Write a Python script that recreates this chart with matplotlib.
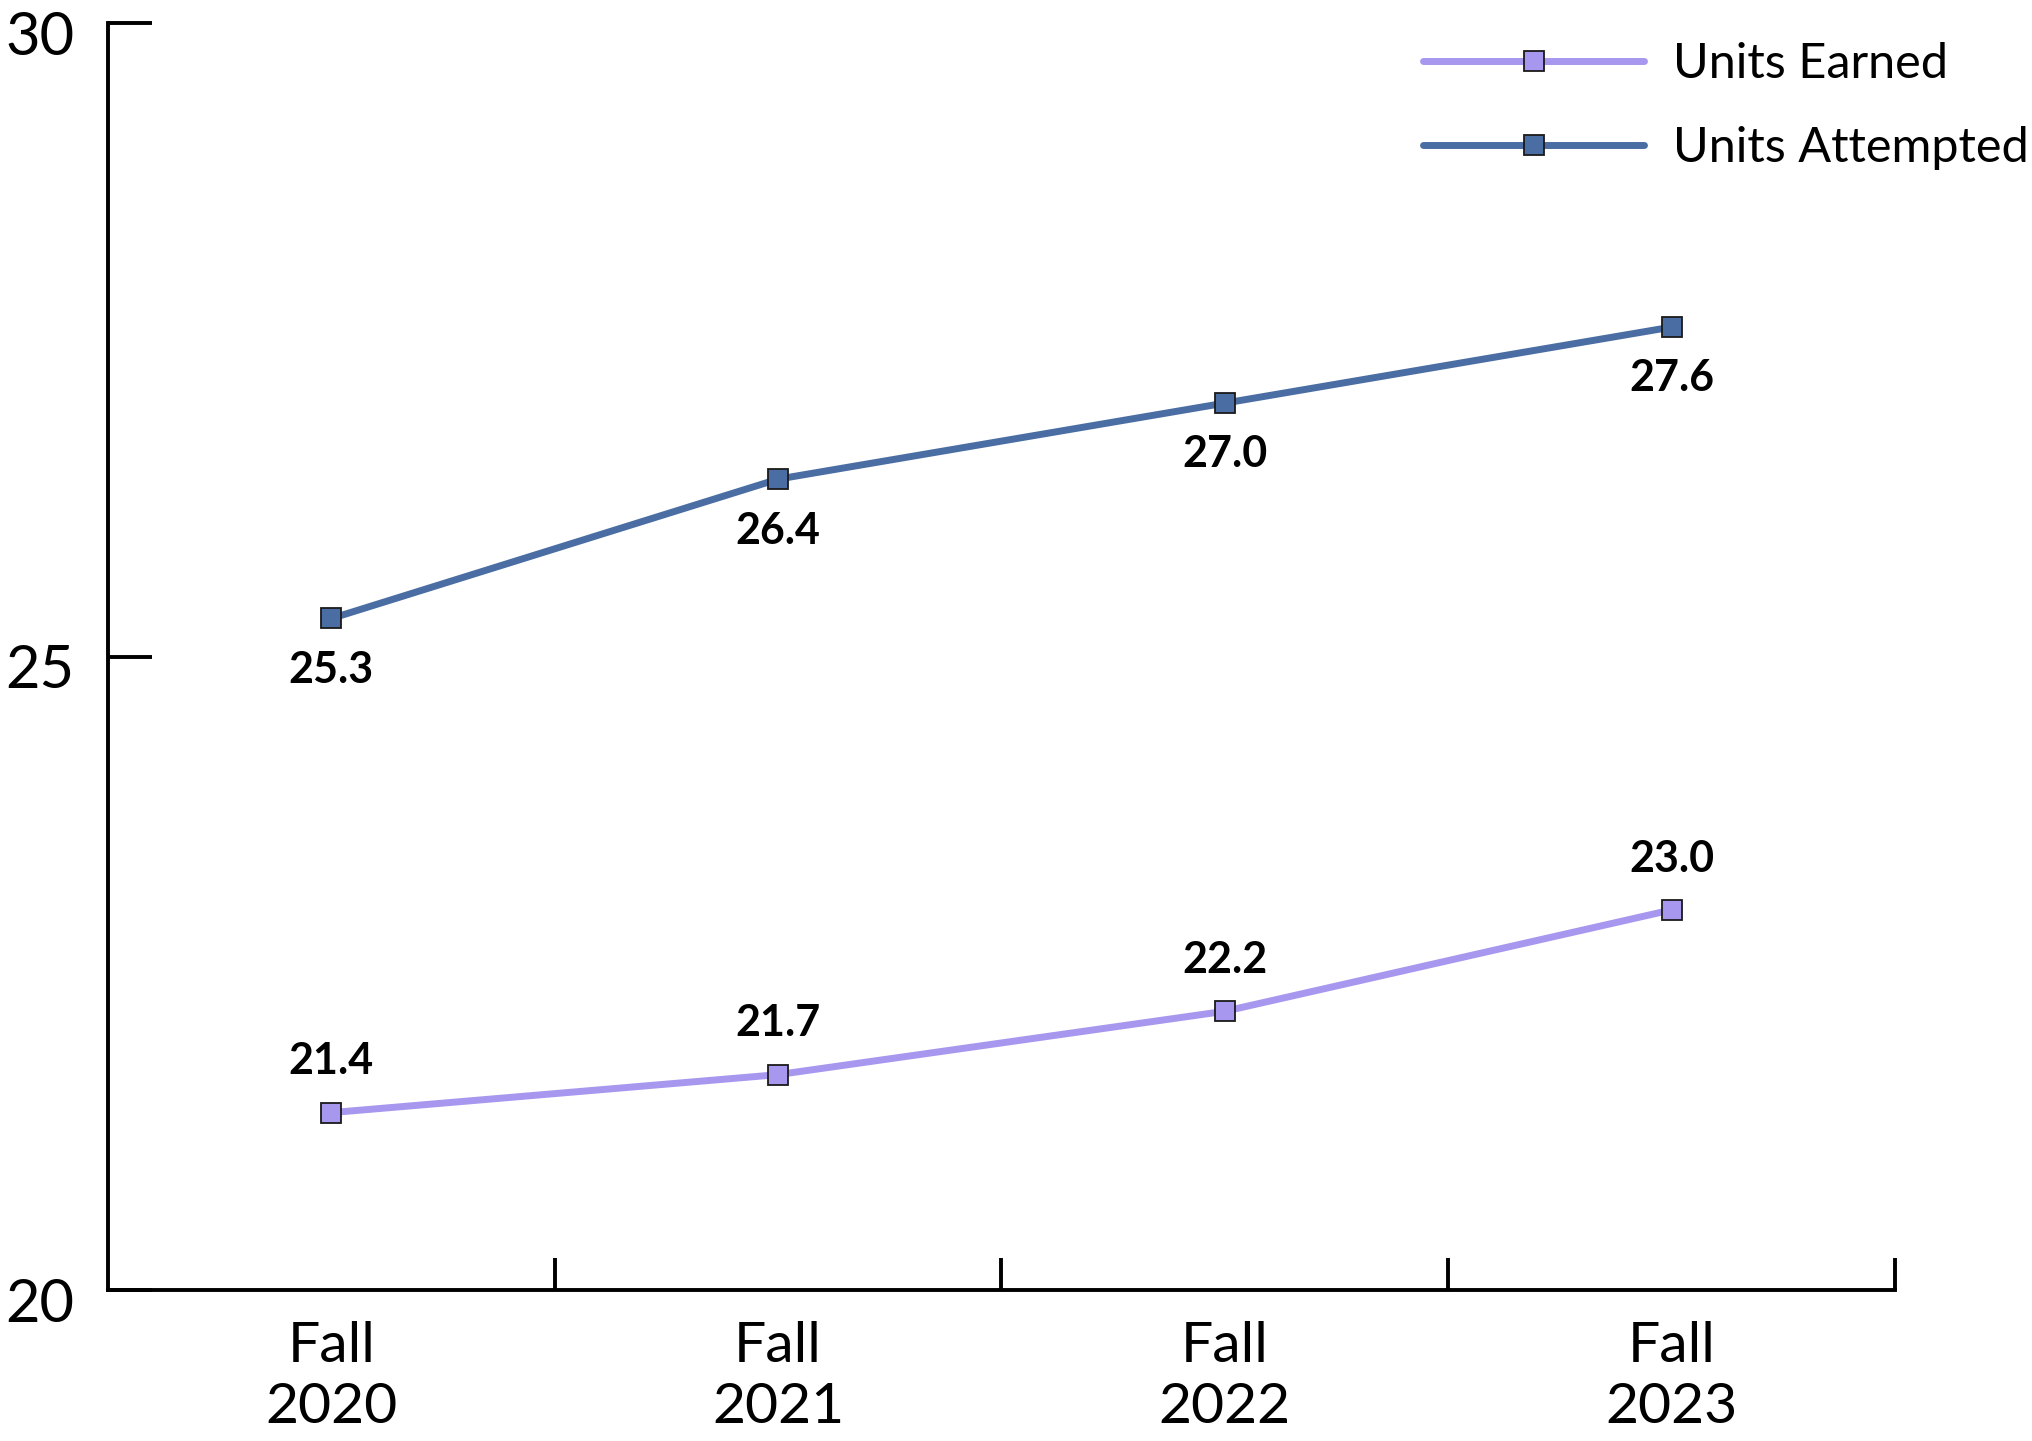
import matplotlib
matplotlib.use("Agg")
import matplotlib.pyplot as plt
import matplotlib.transforms as mtransforms
from matplotlib.ticker import FixedLocator

# data
terms = ["Fall\n2020", "Fall\n2021", "Fall\n2022", "Fall\n2023"]
units_earned = [21.4, 21.7, 22.2, 23.0]
units_attempted = [25.3, 26.4, 27.0, 27.6]
y_ticks = [20, 25, 30]

earned_color = "#A797EE"
attempted_color = "#4A6DA3"

plt.rcParams['font.family'] = ['Lato', 'DejaVu Sans']

fig = plt.figure(figsize=(20.33, 14.41), dpi=100)
ax = fig.add_axes([108 / 2033, 1 - 1290 / 1441, (1895 - 108) / 2033, (1290 - 23) / 1441])

xpos = [i + 0.5 for i in range(len(terms))]

ax.plot(xpos, units_earned, color=earned_color, lw=5, marker="s", ms=14,
        mfc=earned_color, mec="#1a1a1a", mew=1.3, solid_capstyle="round",
        label="Units Earned", zorder=3)
ax.plot(xpos, units_attempted, color=attempted_color, lw=5, marker="s", ms=14,
        mfc=attempted_color, mec="#1a1a1a", mew=1.3, solid_capstyle="round",
        label="Units Attempted", zorder=3)

# value labels: earned above, attempted below
for x, v in zip(xpos, units_earned):
    ax.annotate(f"{v:.1f}", (x, v), xytext=(0, 37), textcoords="offset points",
                ha="center", va="center", fontsize=31, fontweight="bold")
for x, v in zip(xpos, units_attempted):
    ax.annotate(f"{v:.1f}", (x, v), xytext=(0, -37), textcoords="offset points",
                ha="center", va="center", fontsize=31, fontweight="bold")

ax.set_xlim(0, 4)
ax.set_ylim(20, 30)

ax.spines["top"].set_visible(False)
ax.spines["right"].set_visible(False)
ax.spines["left"].set_linewidth(2.8)
ax.spines["bottom"].set_linewidth(2.8)

ax.set_yticks(y_ticks)
ax.set_yticklabels([str(t) for t in y_ticks])
ax.tick_params(axis="y", direction="in", length=32, width=2.8, pad=24,
               labelsize=43)
for lab in ax.get_yticklabels():
    lab.set_transform(lab.get_transform() +
                      mtransforms.ScaledTranslation(0, -0.10, fig.dpi_scale_trans))

ax.set_xticks(xpos)
ax.set_xticklabels(terms, fontsize=41, linespacing=1.25)
ax.tick_params(axis="x", which="major", length=0, pad=22)
ax.xaxis.set_minor_locator(FixedLocator([1, 2, 3, 4]))
ax.tick_params(axis="x", which="minor", direction="in", length=23, width=2.8)

leg = ax.legend(loc="upper left", bbox_to_anchor=(1423 / 2033, 0.971),
                bbox_transform=fig.transFigure, frameon=False, fontsize=35,
                handlelength=4.55, handletextpad=0.6, labelspacing=0.82,
                borderpad=0, borderaxespad=0)

fig.savefig("out.png", dpi=100)
